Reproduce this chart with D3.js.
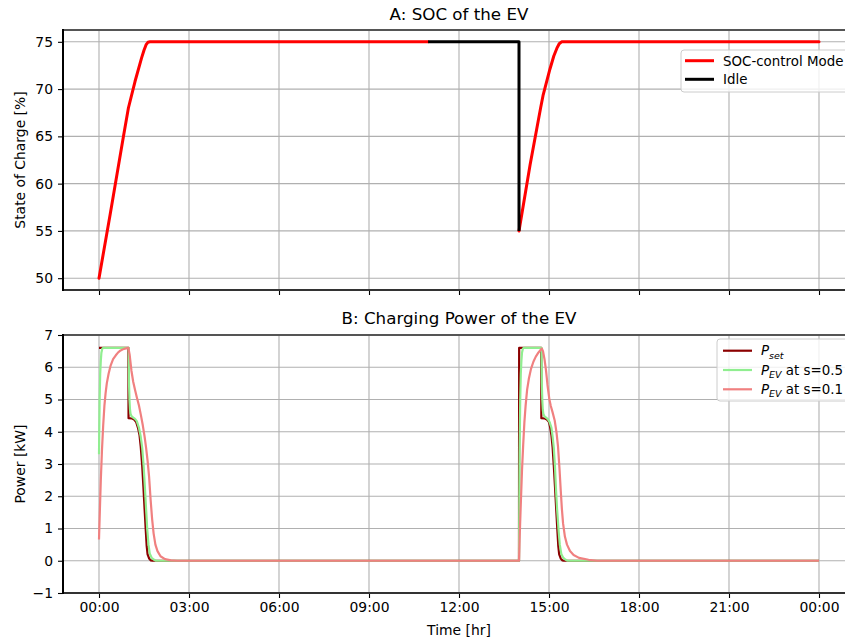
<!DOCTYPE html>
<html><head><meta charset="utf-8">
<script src="https://cdn.jsdelivr.net/npm/d3@7"></script>
<style>
body{margin:0;background:#fff}
svg{display:block}
text{font-family:"DejaVu Sans",sans-serif;fill:#000}
</style>
</head><body>
<svg id="chart" width="845" height="641"></svg>
<script>
// ---------- data ----------
const xTickHours  = [0, 3, 6, 9, 12, 15, 18, 21, 24];
const xTickLabels = ["00:00","03:00","06:00","09:00","12:00","15:00","18:00","21:00","00:00"];
const socTicks    = [50, 55, 60, 65, 70, 75];
const powerTicks  = [-1, 0, 1, 2, 3, 4, 5, 6, 7];

// SOC [%] vs time [h]
const socControl1 = [[0,50],[0.37,56.7],[0.81,64.9],[0.98,68.0],[1.2,70.8],[1.42,73.3],[1.5,74.1],[1.57,74.7],[1.63,74.95],[1.7,75],[10.97,75]];
const socIdle     = [[10.97,75],[14.0,75],[14.0,55]];
const socControl2 = [[14.0,55],[14.37,62.0],[14.72,68.0],[14.8,69.3],[15.03,72.1],[15.16,73.5],[15.26,74.3],[15.34,74.8],[15.42,75],[24,75]];

// Power [kW] vs time [h]
const pSet = [[0,6.6],[0.98,6.6],[0.985,4.42],[1.1,4.41],[1.17,4.38],[1.24,4.3],[1.3,4.12],[1.35,3.9],[1.39,3.55],[1.44,2.95],[1.48,2.3],[1.52,1.6],[1.56,0.93],[1.59,0.45],[1.62,0.2],[1.67,0.07],[1.73,0.01],[1.78,0],
  [14.0,0],[14.005,6.6],[14.74,6.6],[14.745,4.42],[14.86,4.41],[14.93,4.38],[15.0,4.3],[15.04,4.13],[15.08,3.9],[15.12,3.52],[15.16,2.95],[15.2,2.3],[15.24,1.6],[15.28,0.93],[15.31,0.45],[15.34,0.2],[15.39,0.07],[15.45,0.01],[15.5,0],[24,0]];
const pEvS05 = [[0,3.3],[0.02,4.95],[0.04,5.8],[0.06,6.2],[0.08,6.45],[0.11,6.58],[0.14,6.6],[0.99,6.6],[1.0,5.51],[1.017,4.96],[1.033,4.69],[1.05,4.56],[1.08,4.49],[1.14,4.44],[1.2,4.4],[1.26,4.33],[1.33,4.13],[1.39,3.85],[1.44,3.5],[1.49,2.9],[1.53,2.27],[1.57,1.6],[1.61,0.95],[1.65,0.5],[1.69,0.23],[1.75,0.1],[1.82,0.04],[1.9,0],
  [14.0,0],[14.02,3.3],[14.04,4.95],[14.06,5.8],[14.08,6.2],[14.1,6.45],[14.13,6.58],[14.16,6.6],[14.75,6.6],[14.76,5.51],[14.777,4.96],[14.793,4.69],[14.81,4.56],[14.84,4.49],[14.9,4.44],[14.96,4.39],[15.02,4.3],[15.08,4.13],[15.12,3.85],[15.16,3.5],[15.2,2.9],[15.23,2.27],[15.27,1.6],[15.32,0.93],[15.36,0.5],[15.41,0.21],[15.47,0.1],[15.54,0.04],[15.62,0],[24,0]];
const pEvS01 = [[0,0.66],[0.03,1.6],[0.06,2.5],[0.1,3.45],[0.14,4.2],[0.18,4.8],[0.22,5.2],[0.26,5.5],[0.32,5.8],[0.39,6.06],[0.47,6.25],[0.56,6.37],[0.64,6.46],[0.72,6.52],[0.83,6.57],[0.98,6.6],[1.02,6.4],[1.08,5.9],[1.14,5.55],[1.2,5.3],[1.26,5.07],[1.33,4.82],[1.4,4.5],[1.46,4.2],[1.52,3.85],[1.57,3.5],[1.62,3.1],[1.67,2.6],[1.72,1.9],[1.77,1.3],[1.82,0.85],[1.88,0.5],[1.95,0.3],[2.05,0.14],[2.2,0.05],[2.4,0.01],[2.6,0],
  [14.0,0],[14.02,0.66],[14.05,1.5],[14.1,2.8],[14.14,3.6],[14.18,4.3],[14.22,4.8],[14.27,5.3],[14.33,5.65],[14.4,5.95],[14.48,6.17],[14.56,6.33],[14.65,6.46],[14.76,6.58],[14.8,6.5],[14.85,6.25],[14.9,5.9],[14.95,5.45],[15.01,5.02],[15.06,4.8],[15.12,4.6],[15.19,4.35],[15.25,3.98],[15.3,3.55],[15.35,2.85],[15.39,2.2],[15.43,1.6],[15.47,1.15],[15.53,0.75],[15.6,0.5],[15.7,0.3],[15.82,0.18],[16.0,0.09],[16.32,0.03],[16.6,0],[24,0]];

const titleA = "A: SOC of the EV";
const titleB = "B: Charging Power of the EV";
const socYLabel = "State of Charge [%]";
const powYLabel = "Power [kW]";
const xLabel = "Time [hr]";

// ---------- drawing ----------
const svg = d3.select("#chart");
const L = 63, R = 855;
const x = d3.scaleLinear().domain([-1.2, 25.2]).range([L, R]);
const ySoc = d3.scaleLinear().domain([48.75, 76.25]).range([290, 30]);
const yPow = d3.scaleLinear().domain([-1, 7]).range([593, 335]);
const FS = 13.9;

function panel(id, y, yTicks, top, bottom, showXLabels) {
  const g = svg.append("g");
  svg.append("clipPath").attr("id", "clip" + id)
    .append("rect").attr("x", L).attr("y", top).attr("width", R - L).attr("height", bottom - top);
  // grid
  const grid = g.append("g").attr("stroke", "#b0b0b0").attr("stroke-width", 1.1);
  xTickHours.forEach(h => grid.append("line").attr("x1", x(h)).attr("x2", x(h)).attr("y1", top).attr("y2", bottom));
  yTicks.forEach(v => grid.append("line").attr("x1", L).attr("x2", R).attr("y1", y(v)).attr("y2", y(v)));
  const plot = g.append("g").attr("clip-path", `url(#clip${id})`);
  // axes
  const ax = g.append("g").attr("transform", `translate(0,${bottom})`)
    .call(d3.axisBottom(x).tickValues(xTickHours).tickSize(5).tickPadding(4)
      .tickFormat((d, i) => showXLabels ? xTickLabels[i] : ""));
  const ay = g.append("g").attr("transform", `translate(${L},0)`)
    .call(d3.axisLeft(y).tickValues(yTicks).tickSize(5).tickPadding(5)
      .tickFormat(d => d < 0 ? "\u2212" + Math.abs(d) : String(d)));
  [ax, ay].forEach(a => {
    a.select(".domain").remove();
    a.selectAll(".tick line").attr("stroke", "#000").attr("stroke-width", 1.1);
    a.selectAll(".tick text").attr("font-size", FS).attr("font-family", "DejaVu Sans").attr("fill", "#000");
  });
  return {g, plot, top, bottom};
}

function spines(p) {
  p.g.append("line").attr("x1", L).attr("x2", R).attr("y1", p.top).attr("y2", p.top).attr("stroke", "#555").attr("stroke-width", 2);
  p.g.append("line").attr("x1", L).attr("x2", R).attr("y1", p.bottom).attr("y2", p.bottom).attr("stroke", "#333").attr("stroke-width", 2);
  p.g.append("line").attr("x1", L).attr("x2", L).attr("y1", p.top - 1).attr("y2", p.bottom + 1).attr("stroke", "#000").attr("stroke-width", 2);
}

// ---- Panel A ----
const pA = panel("A", ySoc, socTicks, 30, 290, false);
const lineA = d3.line().x(d => x(d[0])).y(d => ySoc(d[1]));
pA.plot.append("path").datum(socControl1).attr("d", lineA).attr("fill", "none").attr("stroke", "#ff0000").attr("stroke-width", 3).attr("stroke-linejoin", "round").attr("stroke-linecap", "round");
pA.plot.append("path").datum(socControl2).attr("d", lineA).attr("fill", "none").attr("stroke", "#ff0000").attr("stroke-width", 3).attr("stroke-linejoin", "round").attr("stroke-linecap", "round");
pA.plot.append("path").datum(socIdle).attr("d", lineA).attr("fill", "none").attr("stroke", "#000").attr("stroke-width", 3).attr("stroke-linejoin", "round");
spines(pA);

// ---- Panel B ----
const pB = panel("B", yPow, powerTicks, 335, 593, true);
const lineB = d3.line().x(d => x(d[0])).y(d => yPow(d[1]));
[[pSet, "#8b0000"], [pEvS05, "#90ee90"], [pEvS01, "#f08080"]].forEach(([data, col]) => {
  pB.plot.append("path").datum(data).attr("d", lineB).attr("fill", "none").attr("stroke", col).attr("stroke-width", 2.2).attr("stroke-linejoin", "round");
});
spines(pB);

// ---- titles & labels ----
svg.append("text").attr("x", (L + R) / 2).attr("y", 20).attr("text-anchor", "middle").attr("font-size", 16.7).text(titleA);
svg.append("text").attr("x", (L + R) / 2).attr("y", 324).attr("text-anchor", "middle").attr("font-size", 16.7).text(titleB);
svg.append("text").attr("transform", "translate(25,160) rotate(-90)").attr("text-anchor", "middle").attr("font-size", FS).text(socYLabel);
svg.append("text").attr("transform", "translate(25,464) rotate(-90)").attr("text-anchor", "middle").attr("font-size", FS).text(powYLabel);
svg.append("text").attr("x", (L + R) / 2).attr("y", 635).attr("text-anchor", "middle").attr("font-size", FS).text(xLabel);

// ---- legends ----
const LFS = 13.4;
function legendBox(x0, y0, w, h) {
  svg.append("rect").attr("x", x0).attr("y", y0).attr("width", w).attr("height", h).attr("rx", 3)
    .attr("fill", "#fff").attr("fill-opacity", 0.8).attr("stroke", "#cccccc").attr("stroke-width", 1);
}
legendBox(681, 50, 180, 42);
[["SOC-control Mode", "#ff0000", 60.7], ["Idle", "#000", 79.3]].forEach(([lab, col, yy]) => {
  svg.append("line").attr("x1", 685).attr("x2", 714).attr("y1", yy).attr("y2", yy).attr("stroke", col).attr("stroke-width", 3);
  svg.append("text").attr("x", 723).attr("y", yy + 4.8).attr("font-size", LFS).text(lab);
});

legendBox(717, 339, 150, 62);
const leg2 = [
  {col: "#8b0000", y: 350.7, sub: "set", rest: ""},
  {col: "#90ee90", y: 370.0, sub: "EV", rest: " at s=0.5"},
  {col: "#f08080", y: 389.3, sub: "EV", rest: " at s=0.1"}
];
leg2.forEach(e => {
  svg.append("line").attr("x1", 723).attr("x2", 752).attr("y1", e.y).attr("y2", e.y).attr("stroke", e.col).attr("stroke-width", 2.2);
  const t = svg.append("text").attr("x", 761).attr("y", e.y + 4.5).attr("font-size", LFS);
  t.append("tspan").attr("font-style", "italic").text("P");
  t.append("tspan").attr("font-style", "italic").attr("font-size", 9.5).attr("dy", 3.5).text(e.sub);
  if (e.rest) t.append("tspan").attr("dy", -3.5).text(e.rest);
});
</script>
</body></html>
